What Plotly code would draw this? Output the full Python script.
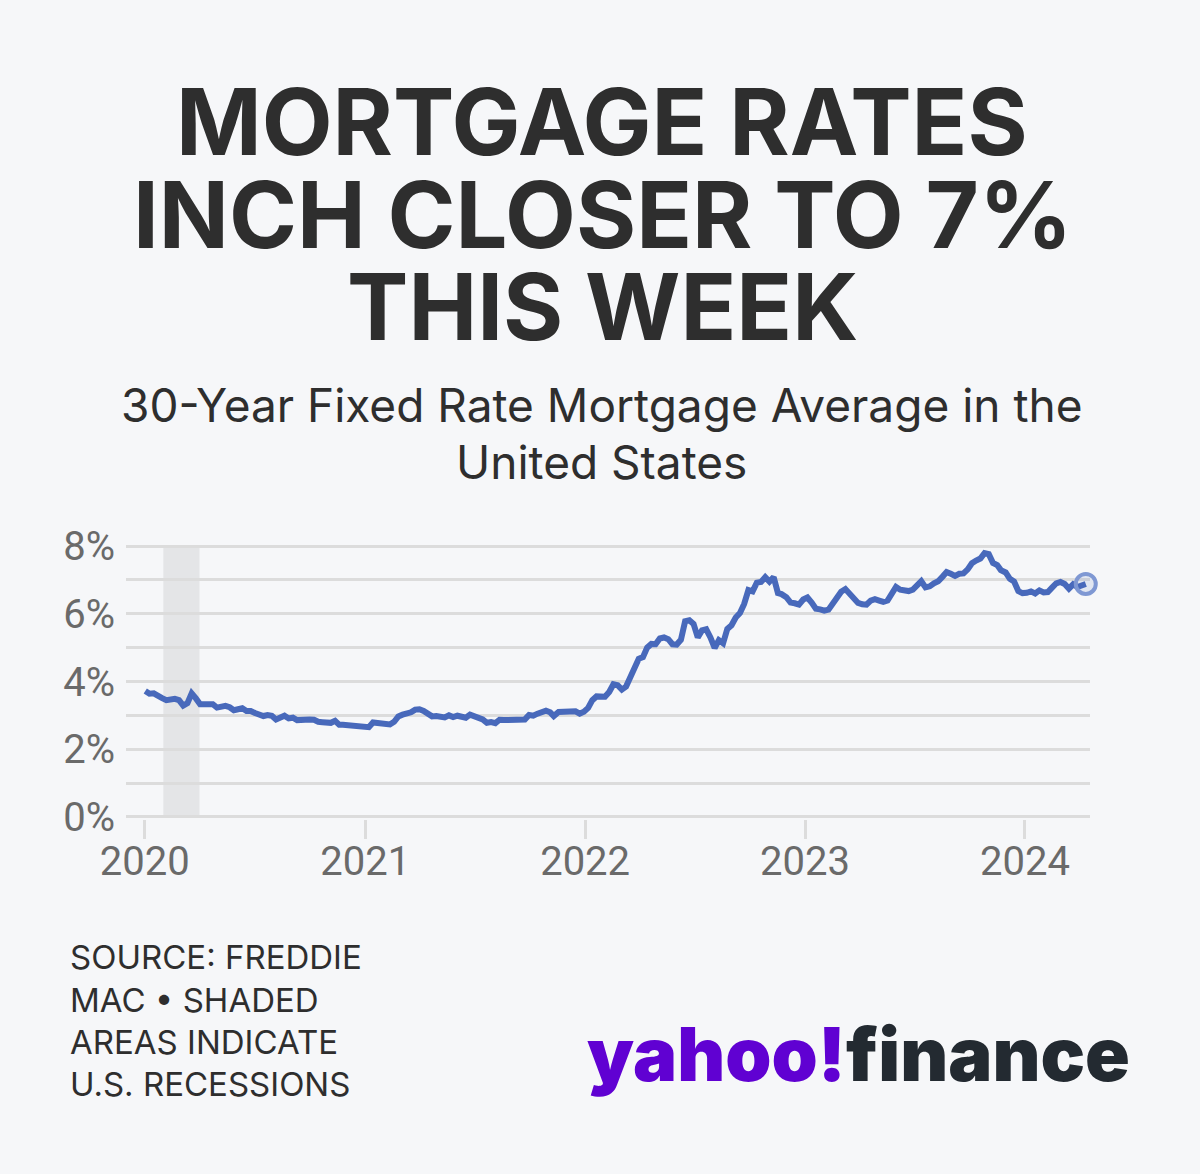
import plotly.graph_objects as go

# ---------------- data (Freddie Mac PMMS 30-year fixed, weekly) ----------------
dates = [
    "2020-01-02","2020-01-09","2020-01-16","2020-01-23","2020-01-30","2020-02-06","2020-02-13","2020-02-20","2020-02-27",
    "2020-03-05","2020-03-12","2020-03-19","2020-03-26","2020-04-02","2020-04-09","2020-04-16","2020-04-23","2020-04-30",
    "2020-05-07","2020-05-14","2020-05-21","2020-05-28","2020-06-04","2020-06-11","2020-06-18","2020-06-25","2020-07-02",
    "2020-07-09","2020-07-16","2020-07-23","2020-07-30","2020-08-06","2020-08-13","2020-08-20","2020-08-27","2020-09-03",
    "2020-09-10","2020-09-17","2020-09-24","2020-10-01","2020-10-08","2020-10-15","2020-10-22","2020-10-29","2020-11-05",
    "2020-11-12","2020-11-19","2020-11-25","2020-12-03","2020-12-10","2020-12-17","2020-12-24","2020-12-31",
    "2021-01-07","2021-01-14","2021-01-21","2021-01-28","2021-02-04","2021-02-11","2021-02-18","2021-02-25","2021-03-04",
    "2021-03-11","2021-03-18","2021-03-25","2021-04-01","2021-04-08","2021-04-15","2021-04-22","2021-04-29","2021-05-06",
    "2021-05-13","2021-05-20","2021-05-27","2021-06-03","2021-06-10","2021-06-17","2021-06-24","2021-07-01","2021-07-08",
    "2021-07-15","2021-07-22","2021-07-29","2021-08-05","2021-08-12","2021-08-19","2021-08-26","2021-09-02","2021-09-09",
    "2021-09-16","2021-09-23","2021-09-30","2021-10-07","2021-10-14","2021-10-21","2021-10-28","2021-11-04","2021-11-10",
    "2021-11-18","2021-11-24","2021-12-02","2021-12-09","2021-12-16","2021-12-23","2021-12-30",
    "2022-01-06","2022-01-13","2022-01-20","2022-01-27","2022-02-03","2022-02-10","2022-02-17","2022-02-24","2022-03-03",
    "2022-03-10","2022-03-17","2022-03-24","2022-03-31","2022-04-07","2022-04-14","2022-04-21","2022-04-28","2022-05-05",
    "2022-05-12","2022-05-19","2022-05-26","2022-06-02","2022-06-09","2022-06-16","2022-06-23","2022-06-30","2022-07-07",
    "2022-07-14","2022-07-21","2022-07-28","2022-08-04","2022-08-11","2022-08-18","2022-08-25","2022-09-01","2022-09-08",
    "2022-09-15","2022-09-22","2022-09-29","2022-10-06","2022-10-13","2022-10-20","2022-10-27","2022-11-03","2022-11-10",
    "2022-11-17","2022-11-23","2022-12-01","2022-12-08","2022-12-15","2022-12-22","2022-12-29",
    "2023-01-05","2023-01-12","2023-01-19","2023-01-26","2023-02-02","2023-02-09","2023-02-16","2023-02-23","2023-03-02",
    "2023-03-09","2023-03-16","2023-03-23","2023-03-30","2023-04-06","2023-04-13","2023-04-20","2023-04-27","2023-05-04",
    "2023-05-11","2023-05-18","2023-05-25","2023-06-01","2023-06-08","2023-06-15","2023-06-22","2023-06-29","2023-07-06",
    "2023-07-13","2023-07-20","2023-07-27","2023-08-03","2023-08-10","2023-08-17","2023-08-24","2023-08-31","2023-09-07",
    "2023-09-14","2023-09-21","2023-09-28","2023-10-05","2023-10-12","2023-10-19","2023-10-26","2023-11-02","2023-11-09",
    "2023-11-16","2023-11-22","2023-11-30","2023-12-07","2023-12-14","2023-12-21","2023-12-28",
    "2024-01-04","2024-01-11","2024-01-18","2024-01-25","2024-02-01","2024-02-08","2024-02-15","2024-02-22","2024-02-29",
    "2024-03-07","2024-03-14","2024-03-21","2024-03-28","2024-04-04","2024-04-11",
]
rates = [
    3.72,3.64,3.65,3.60,3.51,3.45,3.47,3.49,3.45,
    3.29,3.36,3.65,3.50,3.33,3.33,3.31,3.33,3.23,
    3.26,3.28,3.24,3.15,3.18,3.21,3.13,3.13,3.07,
    3.03,2.98,3.01,2.99,2.88,2.96,2.99,2.91,2.93,
    2.86,2.87,2.90,2.88,2.87,2.81,2.80,2.81,2.78,
    2.84,2.72,2.72,2.71,2.71,2.67,2.66,2.67,
    2.65,2.79,2.77,2.73,2.73,2.73,2.81,2.97,3.02,
    3.05,3.09,3.17,3.18,3.13,3.04,2.97,2.98,2.96,
    2.94,3.00,2.95,2.99,2.96,2.93,3.02,2.98,2.90,
    2.88,2.78,2.80,2.77,2.87,2.86,2.87,2.87,2.88,
    2.86,2.88,3.01,2.99,3.05,3.09,3.14,3.09,2.98,
    3.10,3.10,3.11,3.10,3.12,3.05,3.11,
    3.22,3.45,3.56,3.55,3.55,3.69,3.92,3.89,3.76,
    3.85,4.16,4.42,4.67,4.72,5.00,5.11,5.10,5.27,
    5.30,5.25,5.10,5.09,5.23,5.78,5.81,5.70,5.30,
    5.51,5.54,5.30,4.99,5.22,5.13,5.55,5.66,5.89,
    6.02,6.29,6.70,6.66,6.92,6.94,7.08,6.95,7.08,
    6.61,6.58,6.49,6.33,6.31,6.27,6.42,
    6.48,6.33,6.15,6.13,6.09,6.12,6.32,6.50,6.65,
    6.73,6.60,6.42,6.32,6.28,6.27,6.39,6.43,6.39,
    6.35,6.39,6.57,6.79,6.71,6.69,6.67,6.71,6.81,
    6.96,6.78,6.81,6.90,6.96,7.09,7.23,7.18,7.12,
    7.18,7.19,7.31,7.49,7.57,7.63,7.79,7.76,7.50,
    7.44,7.29,7.22,7.03,6.95,6.67,6.61,
    6.62,6.66,6.60,6.69,6.63,6.64,6.77,6.90,6.94,
    6.88,6.74,6.87,6.79,6.82,6.88,
]

recession_start = "2020-02-01"
recession_end = "2020-04-01"

y_ticks = [0, 1, 2, 3, 4, 5, 6, 7, 8]
y_tick_labels = ["0%", "", "2%", "", "4%", "", "6%", "", "8%"]

title_lines = ["MORTGAGE RATES", "INCH CLOSER TO 7%", "THIS WEEK"]
subtitle_lines = ["30-Year Fixed Rate Mortgage Average in the", "United States"]
source_lines = ["SOURCE: FREDDIE", "MAC • SHADED", "AREAS INDICATE", "U.S. RECESSIONS"]

# ---------------- styling ----------------
BG = "#f6f7f9"
LINE = "#4869bb"
GRID = "#dcdcdc"
TEXT = "#2e2e2e"
TICK = "#6a6a6a"

W, H = 1200, 1174
# 0% sits at y=817 px, 8% at y=546 px; axis range padded slightly so edge gridlines draw
Y0, Y1 = -0.06, 8.06
PX_PER_UNIT = (817 - 546) / 8.0
T = 546 - (Y1 - 8) * PX_PER_UNIT
B = 817 + (0 - Y0) * PX_PER_UNIT
L, R = 126, 1090

fig = go.Figure()

fig.add_trace(go.Scatter(
    x=dates, y=rates, mode="lines",
    line=dict(color=LINE, width=6),
    hoverinfo="skip", showlegend=False,
))
fig.add_trace(go.Scatter(
    x=[dates[-1]], y=[rates[-1]], mode="markers",
    marker=dict(size=20, color="rgba(72,105,187,0.12)",
                line=dict(color="#7f98d3", width=4)),
    hoverinfo="skip", showlegend=False,
    cliponaxis=False,
))

fig.add_shape(type="rect", xref="x", yref="y",
              x0=recession_start, x1=recession_end, y0=0, y1=8,
              fillcolor="#e4e5e7", line=dict(width=0), layer="below")

# pixel -> paper (plot-area-relative) coordinates
def py(p):
    return (B - p) / (B - T)

def px_(p):
    return (p - L) / (R - L)

title_y = [121, 214, 306]
for t, yy in zip(title_lines, title_y):
    fig.add_annotation(text=t, xref="paper", yref="paper", x=px_(602), y=py(yy),
                       xanchor="center", yanchor="middle", showarrow=False,
                       height=90, valign="middle",
                       font=dict(family="Inter", size=92, color=TEXT, weight=700))

sub_y = [405, 462]
for t, yy in zip(subtitle_lines, sub_y):
    fig.add_annotation(text=t, xref="paper", yref="paper", x=px_(601), y=py(yy),
                       xanchor="center", yanchor="middle", showarrow=False,
                       font=dict(family="Inter", size=46, color=TEXT, weight=400))

src_y = [957, 1000, 1042, 1084]
for t, yy in zip(source_lines, src_y):
    fig.add_annotation(text=t, xref="paper", yref="paper", x=px_(68), y=py(yy),
                       xanchor="left", yanchor="middle", showarrow=False,
                       font=dict(family="Inter", size=33, color=TEXT, weight=400))

fig.add_annotation(
    text="<span style='color:#6001d2'>yahoo!</span><span style='color:#232a31'>finance</span>",
    xref="paper", yref="paper", x=px_(1132), y=py(1054),
    xanchor="right", yanchor="middle", showarrow=False,
    font=dict(family="Inter", size=74, weight=900))

fig.update_layout(
    width=W, height=H,
    paper_bgcolor=BG, plot_bgcolor=BG,
    margin=dict(l=L, r=W - R, t=T, b=H - B, pad=0),
    showlegend=False,
    xaxis=dict(
        type="date", range=["2019-12-01", "2024-04-18"],
        tick0="2020-01-01", dtick="M12", tickformat="%Y",
        showgrid=False, zeroline=False, showline=False,
        ticks="outside", ticklen=19, tickwidth=3, tickcolor=GRID,
        ticklabelstandoff=-12,
        tickfont=dict(family="Roboto", size=40, color=TICK),
    ),
    yaxis=dict(
        range=[Y0, Y1], tickvals=y_ticks, ticktext=y_tick_labels,
        showgrid=True, gridcolor=GRID, gridwidth=3,
        zeroline=False, showline=False, ticks="",
        ticklabelstandoff=10,
        tickfont=dict(family="Roboto", size=40, color=TICK),
    ),
)

fig.write_html("out.html")
